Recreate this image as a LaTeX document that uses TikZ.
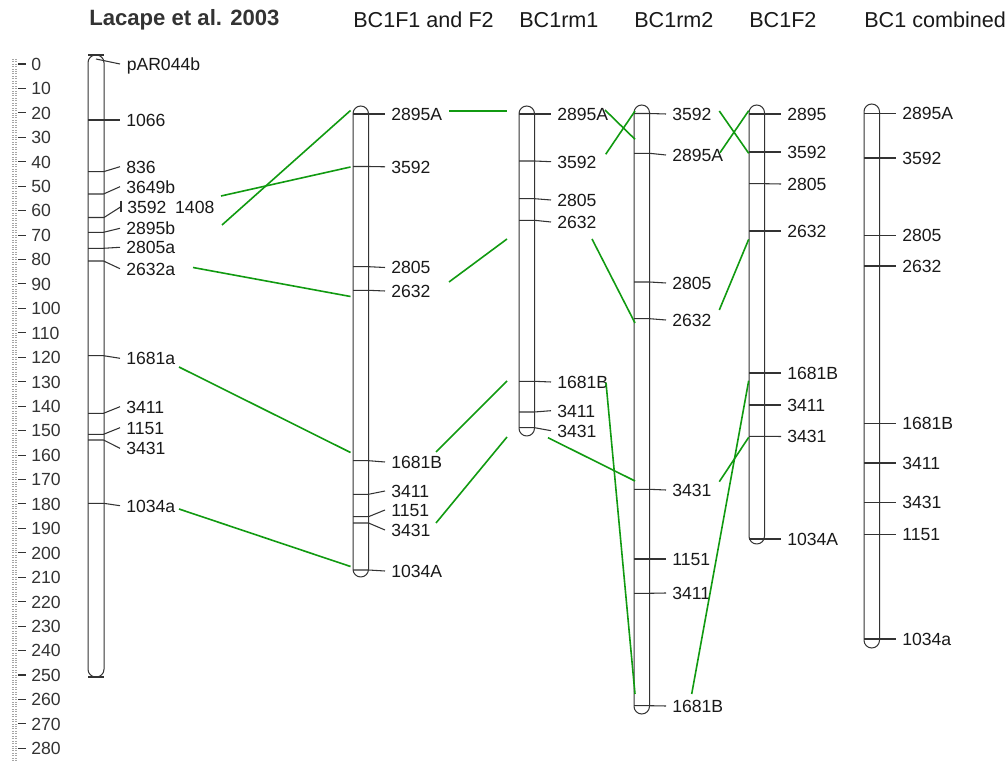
\documentclass[tikz,border=0pt]{standalone}
\usepackage{fontspec}
\setmainfont{Liberation Sans}
\usepackage{tikz}
\definecolor{linkgreen}{HTML}{119A11}
\definecolor{mapdark}{HTML}{333333}
\newcommand{\mapfont}{\fontsize{13.2}{15}\selectfont}
\newcommand{\headfont}{\fontsize{16.2}{19}\selectfont}
\tikzset{
  chrom/.style={draw=mapdark,line width=0.75pt,rounded corners=5.8pt},
  tick/.style={draw=mapdark,line width=0.8pt},
  majtick/.style={draw=mapdark,line width=0.8pt},
  mintick/.style={draw=black!35,line width=0.5pt,dash pattern=on 1.5pt off 0.75pt},
  lbl/.style={anchor=west,inner sep=0pt,font=\mapfont,text=black!90,text height=9.5pt,text depth=0pt},
  rlbl/.style={lbl,text=mapdark},
  ttl/.style={anchor=base west,inner sep=0pt,font=\headfont,text=black!90},
  link/.style={draw=linkgreen,line width=1.2pt},
}
% ticks and labels of one linkage group: x of left side, name prefix, list
\newcommand{\chrmarks}[3]{%
  \foreach \ty/\ly/\nm/\txt in {#3} {
    \draw[tick] (#1,\ty) -- ++(15.5,0) -- (#1+32,\ly);
    \node[lbl] (#2-\nm) at (#1+38,\ly) {\txt};
  }}
\begin{document}
\begin{tikzpicture}[x=0.75pt,y=-0.75pt]
  \useasboundingbox (0,0) rectangle (1007,762);

  % cM scale
  \foreach \v in {-2,...,285}
    \draw[mintick] (12,{64+2.444*\v}) -- (17,{64+2.444*\v});
  \foreach \v in {0,10,...,280} {
    \draw[majtick] (18,{64+2.444*\v}) -- (26,{64+2.444*\v});
    \node[rlbl] (s\v) at (31,{64+2.444*\v}) {\v};
  }

  % titles
  \node[ttl,font=\fontsize{16.6}{19}\selectfont\bfseries,text=mapdark] (tLac) at (89,26) {Lacape et al. 2003};
  \node[ttl] (tF1) at (353,27.7) {BC1F1 and F2};
  \node[ttl] (tR1) at (519,27.7) {BC1rm1};
  \node[ttl] (tR2) at (634,27.7) {BC1rm2};
  \node[ttl] (tF2) at (749,27.7) {BC1F2};
  \node[ttl] (tC) at (864,27.7) {BC1 combined};

  % Lacape et al. 2003
  \draw[chrom] (88,55) rectangle (104,677);
  \draw[tick] (88,55) -- (104,55);
  \draw[tick] (88,677) -- (104,677);
  \draw[tick] (96,59) -- (120,64);
  \node[lbl] (L-pAR044b) at (126.5,64) {pAR044b};
  \draw[tick] (88,217.5) -- (104,217.5) -- (121,206.7);
  \draw[tick] (121,200.7) -- (121,212.3);
  \node[lbl] (L-3592) at (127,207.5) {3592\hspace{0.5em}1408};
  \chrmarks{88}{L}{120/120/1066/1066, 171.7/166.7/836/836, 194/186.7/3649b/3649b,
    232.3/228.3/2895b/2895b, 248.3/247.3/2805a/2805a, 261/268.7/2632a/2632a,
    355.7/358.3/1681a/1681a, 413.3/406.7/3411/3411, 434.3/427.7/1151/1151,
    440/448.3/3431/3431, 503.3/505.7/1034a/1034a}

  % BC1F1 and F2
  \draw[chrom] (353,106) rectangle (368.5,577);
  \chrmarks{353}{F1}{114/114/2895A/2895A, 166.5/166.8/3592/3592, 266.7/267.5/2805/2805,
    290.3/291/2632/2632, 460.7/462/1681B/1681B, 494.3/491/3411/3411,
    516.7/510/1151/1151, 523/530/3431/3431, 570/571/1034A/1034A}

  % BC1rm1
  \draw[chrom] (519,106) rectangle (534.5,436);
  \chrmarks{519}{R1}{114/114/2895A/2895A, 161/161.7/3592/3592, 198.7/200/2805/2805,
    220.3/222/2632/2632, 381.3/382/1681B/1681B, 412/410.7/3411/3411,
    427.7/430.7/3431/3431}

  % BC1rm2
  \draw[chrom] (634,105) rectangle (649.5,714);
  \chrmarks{634}{R2}{113.5/114/3592/3592, 153.3/155/2895A/2895A, 282/283/2805/2805,
    318.7/320/2632/2632, 489.3/490/3431/3431, 559/559/1151/1151,
    593.3/593/3411/3411, 705.7/706/1681B/1681B}

  % BC1F2
  \draw[chrom] (749,105) rectangle (764.5,544);
  \chrmarks{749}{F2}{114/114/2895/2895, 152/152/3592/3592, 183.7/184/2805/2805,
    231/231/2632/2632, 373/373/1681B/1681B, 405/405/3411/3411,
    436.3/436.5/3431/3431, 539/539/1034A/1034A}

  % BC1 combined
  \draw[chrom] (864,104) rectangle (879.5,648);
  \chrmarks{864}{C}{113.5/113.5/2895A/2895A, 158/158/3592/3592, 235.5/235.5/2805/2805,
    266/266/2632/2632, 423.5/423.5/1681B/1681B, 463/463/3411/3411,
    502.5/502.5/3431/3431, 534.5/534.5/1151/1151, 639/639/1034a/1034a}

  % links between maps
  \foreach \n/\xa/\ya/\xb/\yb in {
    1/221/196/350.5/167, 2/222/225/350.5/110.5, 3/193/267.5/350.5/296.5,
    4/179/367/350.5/452.5, 5/179/509/350.5/566.5,
    6/449/111/507/111, 7/449/282/507/239, 8/436/452/507/381, 9/436/523/507/437,
    10/605/110/635/139.3, 11/605.7/154.3/635/111, 12/592/239/635/323,
    13/606/382.7/635/694, 14/548/437.7/635/481,
    15/719.3/111/748.7/153.3, 16/720/152.7/748.7/110.7, 17/719.3/310/748.7/239.3,
    18/719.3/481.7/748.7/437.3, 19/691.7/694/748.7/380.7} {
    \coordinate (g\n a) at (\xa,\ya);
    \coordinate (g\n b) at (\xb,\yb);
    \draw[link] (g\n a) -- (g\n b);
  }
\end{tikzpicture}
\end{document}
